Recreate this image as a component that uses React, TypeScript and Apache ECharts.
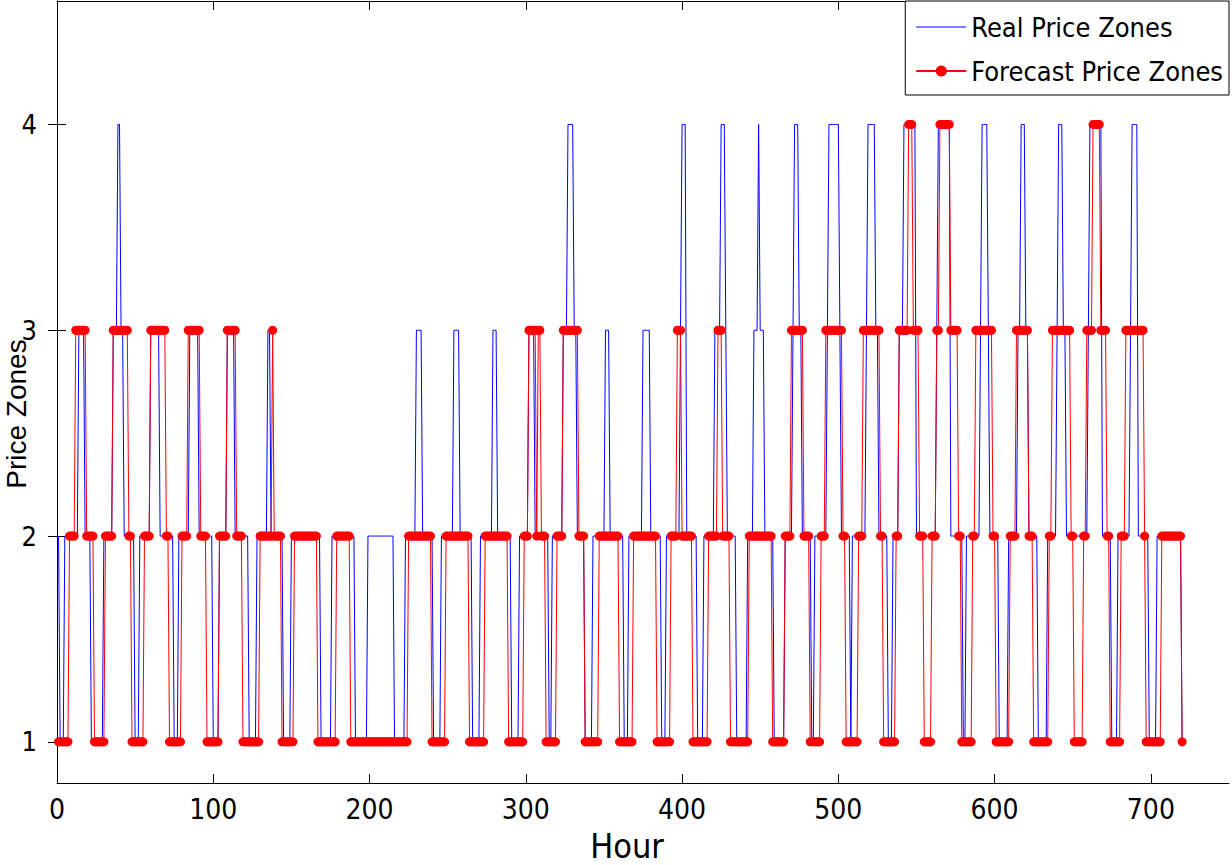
import React, { useEffect, useRef } from "react";
import * as echarts from "echarts";

// Hourly price zones, stored as [zone, number of consecutive hours], starting at hour 1
const firstHour = 1;

const realZoneRuns: number[][] = [
  [2, 1], [1, 3], [2, 9], [3, 4], [2, 4], [1, 8], [2, 6], [3, 3], [4, 2], [3, 2],
  [2, 7], [1, 3], [2, 7], [3, 6], [2, 9], [1, 3], [2, 7], [3, 6], [2, 9], [1, 4],
  [2, 5], [3, 5], [2, 9], [1, 5], [2, 7], [3, 2], [2, 8], [1, 5], [2, 19], [1, 7],
  [2, 15], [1, 8], [2, 17], [1, 7], [2, 7], [3, 4], [2, 7], [1, 5], [2, 8], [3, 4],
  [2, 8], [1, 5], [2, 8], [3, 3], [2, 9], [1, 5], [2, 6], [3, 4], [2, 9], [1, 2],
  [2, 7], [3, 3], [4, 4], [3, 2], [2, 5], [1, 5], [2, 8], [3, 3], [2, 9], [1, 3],
  [2, 9], [3, 5], [2, 7], [1, 3], [2, 9], [3, 1], [4, 3], [2, 7], [1, 4], [2, 7],
  [3, 4], [4, 3], [3, 1], [2, 6], [1, 7], [2, 4], [3, 3], [4, 1], [3, 3], [2, 6],
  [1, 7], [2, 5], [3, 1], [4, 3], [3, 2], [2, 6], [1, 2], [2, 8], [3, 1], [4, 7],
  [3, 1], [2, 6], [1, 1], [2, 9], [3, 1], [4, 5], [3, 2], [2, 6], [1, 3], [2, 4],
  [3, 3], [4, 8], [2, 13], [3, 1], [4, 8], [2, 8], [1, 2], [2, 9], [3, 1], [4, 4],
  [3, 1], [2, 6], [1, 6], [2, 6], [3, 2], [4, 3], [3, 2], [2, 6], [1, 6], [2, 6],
  [3, 1], [4, 3], [3, 2], [2, 14], [3, 1], [4, 8], [2, 6], [1, 4], [2, 8], [3, 1],
  [4, 4], [2, 7], [1, 5], [2, 16], [1, 1],
];

const forecastZoneRuns: number[][] = [
  [1, 7], [2, 4], [3, 7], [2, 5], [1, 7], [2, 5], [3, 10], [2, 2], [1, 8], [2, 4],
  [3, 10], [2, 2], [1, 8], [2, 4], [3, 8], [2, 4], [1, 8], [2, 5], [3, 6], [2, 4],
  [1, 11], [2, 8], [3, 1], [2, 5], [1, 8], [2, 15], [1, 12], [2, 9], [1, 37], [2, 15],
  [1, 9], [2, 15], [1, 10], [2, 15], [1, 10], [2, 3], [3, 5], [2, 1], [3, 2], [2, 3],
  [1, 7], [2, 4], [3, 10], [2, 4], [1, 9], [2, 13], [1, 9], [2, 15], [1, 9], [2, 4],
  [3, 3], [2, 7], [1, 10], [2, 6], [3, 3], [2, 5], [1, 12], [2, 15], [1, 8], [2, 4],
  [3, 8], [2, 4], [1, 7], [2, 3], [3, 11], [2, 2], [1, 8], [2, 3], [3, 11], [2, 2],
  [1, 8], [2, 2], [3, 6], [4, 3], [3, 4], [2, 3], [1, 5], [2, 3], [3, 2], [4, 7],
  [3, 5], [2, 2], [1, 7], [2, 2], [3, 11], [2, 2], [1, 9], [2, 4], [3, 8], [2, 3],
  [1, 10], [2, 2], [3, 12], [2, 2], [1, 6], [2, 2], [3, 4], [4, 5], [3, 4], [2, 2],
  [1, 7], [2, 3], [3, 12], [2, 1], [1, 10], [2, 13], [1, 1],
];

const xTickValues = [0, 100, 200, 300, 400, 500, 600, 700];
const yTickValues = [1, 2, 3, 4];

function expandRuns(runs: number[][]): number[][] {
  const out: number[][] = [];
  let hour = firstHour;
  for (const [zone, count] of runs) {
    for (let i = 0; i < count; i++) {
      out.push([hour, zone]);
      hour += 1;
    }
  }
  return out;
}

const NARROW = '"Liberation Sans Narrow", "Arial Narrow", "DejaVu Sans Condensed", "Liberation Sans", sans-serif';
const REGULAR = 'Arial, "Liberation Sans", Helvetica, sans-serif';

export default function App() {
  const ref = useRef<HTMLDivElement | null>(null);

  useEffect(() => {
    document.body.style.margin = "0";
    if (!ref.current) return;
    const chart = echarts.init(ref.current, undefined, { renderer: "svg" });

    const frameLine = { show: true, lineStyle: { color: "#000", width: 1 } };

    chart.setOption({
      animation: false,
      backgroundColor: "#fff",
      textStyle: { fontFamily: NARROW },
      grid: { left: 57, right: 3, top: 1, bottom: 82, containLabel: false, outerBoundsMode: "none" },
      legend: {
        orient: "vertical",
        right: 3,
        top: 1,
        padding: [9, 6, 7, 10],
        itemGap: 10,
        itemWidth: 50,
        itemHeight: 14,
        borderColor: "#000",
        borderWidth: 1,
        borderRadius: 0,
        backgroundColor: "#fff",
        textStyle: { fontSize: 27, lineHeight: 34, color: "#000", fontFamily: NARROW },
        data: [
          { name: "Real Price Zones", icon: "path://M0 0 H50 V1 H0 Z" },
          { name: "Forecast Price Zones" },
        ],
      },
      xAxis: [
        {
          type: "value",
          position: "bottom",
          min: 0,
          max: 750,
          name: "Hour",
          nameLocation: "middle",
          nameGap: 46,
          nameMoveOverlap: false,
          nameTextStyle: {
            fontSize: 34,
            lineHeight: 34,
            color: "#000",
            fontFamily: NARROW,
            padding: [0, 32, 0, 0],
          },
          axisLine: frameLine,
          axisTick: { inside: true, length: 9, customValues: xTickValues, lineStyle: { color: "#000" } },
          axisLabel: { customValues: xTickValues, fontSize: 28, color: "#000", margin: 12, fontFamily: NARROW },
          splitLine: { show: false },
        },
        {
          type: "value",
          position: "top",
          min: 0,
          max: 750,
          axisLine: frameLine,
          axisTick: { inside: true, length: 9, customValues: xTickValues, lineStyle: { color: "#000" } },
          axisLabel: { show: false },
          splitLine: { show: false },
        },
      ],
      yAxis: [
        {
          type: "value",
          position: "left",
          min: 0.8,
          max: 4.6,
          name: "Price Zones",
          nameLocation: "middle",
          nameGap: 27,
          nameMoveOverlap: false,
          nameTextStyle: {
            fontSize: 28,
            lineHeight: 28,
            color: "#000",
            fontFamily: REGULAR,
            padding: [0, 44, 0, 0],
          },
          axisLine: frameLine,
          axisTick: { inside: true, length: 9, customValues: yTickValues, lineStyle: { color: "#000" } },
          axisLabel: { customValues: yTickValues, fontSize: 27, color: "#000", margin: 20, fontFamily: NARROW },
          splitLine: { show: false },
        },
        {
          type: "value",
          position: "right",
          min: 0.8,
          max: 4.6,
          axisLine: frameLine,
          axisTick: { inside: true, length: 9, customValues: yTickValues, lineStyle: { color: "#000" } },
          axisLabel: { show: false },
          splitLine: { show: false },
        },
      ],
      series: [
        {
          name: "Real Price Zones",
          type: "line",
          xAxisIndex: 0,
          yAxisIndex: 0,
          data: expandRuns(realZoneRuns),
          showSymbol: false,
          symbol: "none",
          lineStyle: { color: "#0000ff", width: 1 },
          itemStyle: { color: "#0000ff" },
        },
        {
          name: "Forecast Price Zones",
          type: "line",
          xAxisIndex: 0,
          yAxisIndex: 0,
          data: expandRuns(forecastZoneRuns),
          symbol: "circle",
          symbolSize: 9,
          showAllSymbol: true,
          lineStyle: { color: "#ff0000", width: 1 },
          itemStyle: { color: "#ff0000" },
        },
      ],
    });

    return () => {
      chart.dispose();
    };
  }, []);

  return (
    <div
      ref={ref}
      style={{ position: "absolute", left: 0, top: 0, width: 1232, height: 865 }}
    />
  );
}
